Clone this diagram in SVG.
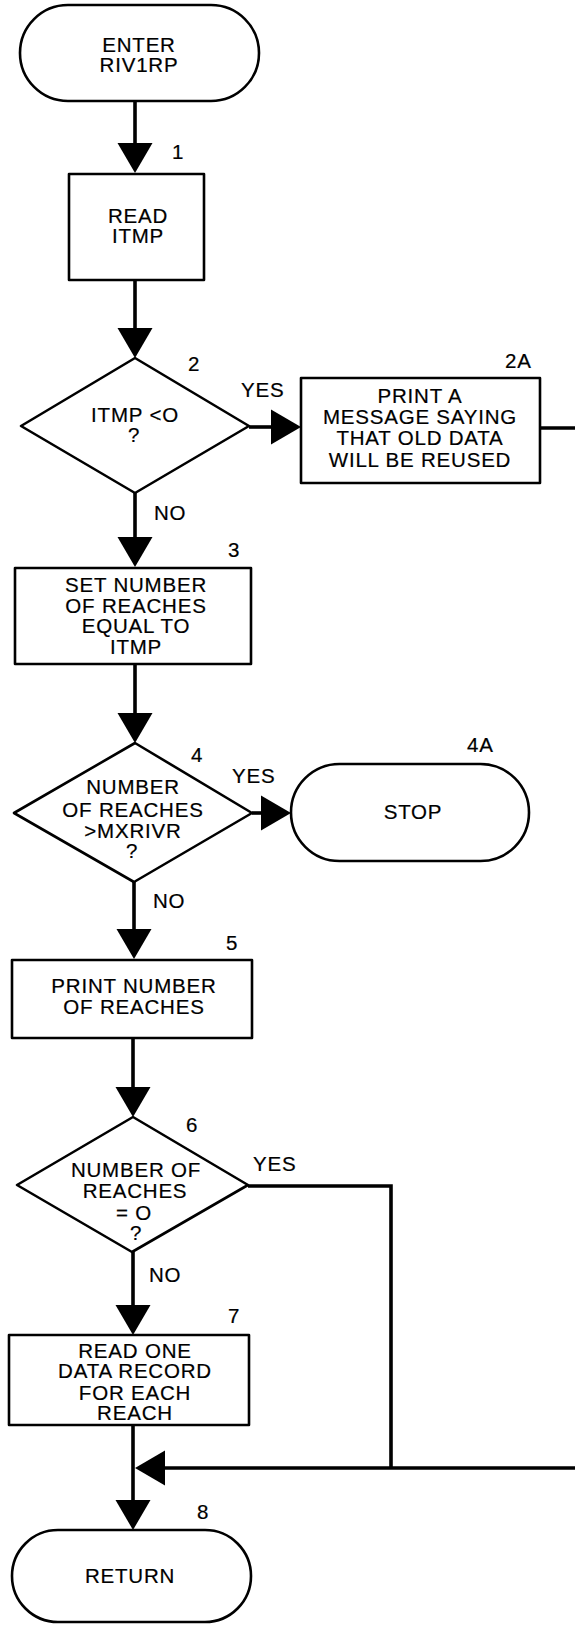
<svg xmlns="http://www.w3.org/2000/svg" xmlns:xlink="http://www.w3.org/1999/xlink" width="575" height="1625" viewBox="0 0 575 1625">
<style>
.shape{fill:#fff;stroke:#000;stroke-width:2.6;stroke-linejoin:round}
.conn{fill:none;stroke:#000;stroke-width:3.6;stroke-linejoin:miter}
.ah{fill:#000;stroke:none}
text{font-family:"Liberation Sans",Arial,Helvetica,sans-serif;font-size:20.5px;letter-spacing:0.8px;fill:#000;stroke:#000;stroke-width:0.2}
.c{text-anchor:middle}
</style>
<defs>
<polygon id="arrow" class="ah" points="0,0 -30,-17.5 -30,17.5"/>
</defs>
<rect width="575" height="1625" fill="#fff"/>

<g id="connectors">
<path class="conn" d="M135,101 V145"/>
<use xlink:href="#arrow" href="#arrow" transform="translate(135,173) rotate(90)"/>
<path class="conn" d="M135,280 V328"/>
<use xlink:href="#arrow" href="#arrow" transform="translate(135,358) rotate(90)"/>
<path class="conn" d="M249,427 H273"/>
<use xlink:href="#arrow" href="#arrow" transform="translate(301,427)"/>
<path class="conn" d="M540,428 H575"/>
<path class="conn" d="M135,493 V539"/>
<use xlink:href="#arrow" href="#arrow" transform="translate(135,567) rotate(90)"/>
<path class="conn" d="M135,664 V715"/>
<use xlink:href="#arrow" href="#arrow" transform="translate(135,743) rotate(90)"/>
<path class="conn" d="M252,813 H263"/>
<use xlink:href="#arrow" href="#arrow" transform="translate(291,813)"/>
<path class="conn" d="M134,882 V930"/>
<use xlink:href="#arrow" href="#arrow" transform="translate(134,959) rotate(90)"/>
<path class="conn" d="M133,1038 V1089"/>
<use xlink:href="#arrow" href="#arrow" transform="translate(133,1117) rotate(90)"/>
<path class="conn" d="M248,1186 H391 V1468"/>
<path class="conn" d="M133,1252 V1306"/>
<use xlink:href="#arrow" href="#arrow" transform="translate(133,1335) rotate(90)"/>
<path class="conn" d="M133,1425 V1502"/>
<use xlink:href="#arrow" href="#arrow" transform="translate(133,1530) rotate(90)"/>
<path class="conn" d="M162,1468 H575"/>
<use xlink:href="#arrow" href="#arrow" transform="translate(135,1468) rotate(180)"/>
</g>

<g id="node-enter">
<rect class="shape" x="20" y="5" width="239" height="96" rx="48" ry="48"/>
<text class="c" x="139" y="52">ENTER</text>
<text class="c" x="139" y="72">RIV1RP</text>
</g>

<g id="node-1">
<rect class="shape" x="69" y="174" width="135" height="106"/>
<text class="c" x="138" y="223">READ</text>
<text class="c" x="138" y="243">ITMP</text>
<text x="172" y="159">1</text>
</g>

<g id="node-2">
<polygon class="shape" points="135,358 249,426 135,493 21,426"/>
<text class="c" x="135" y="422">ITMP &lt;O</text>
<text class="c" x="134" y="442">?</text>
<text x="188" y="371">2</text>
<text x="241" y="397">YES</text>
<text x="154" y="520">NO</text>
</g>

<g id="node-2A">
<rect class="shape" x="301" y="378" width="239" height="105"/>
<text class="c" x="420" y="403">PRINT A</text>
<text class="c" x="420" y="424">MESSAGE SAYING</text>
<text class="c" x="420" y="445">THAT OLD DATA</text>
<text class="c" x="420" y="467">WILL BE REUSED</text>
<text x="505" y="368">2A</text>
</g>

<g id="node-3">
<rect class="shape" x="15" y="568" width="236" height="96"/>
<text class="c" x="136" y="592">SET NUMBER</text>
<text class="c" x="136" y="613">OF REACHES</text>
<text class="c" x="136" y="633">EQUAL TO</text>
<text class="c" x="136" y="654">ITMP</text>
<text x="228" y="557">3</text>
</g>

<g id="node-4">
<polygon class="shape" points="135,743 252,813 134,882 14,813"/>
<text class="c" x="133" y="794">NUMBER</text>
<text class="c" x="133" y="817">OF REACHES</text>
<text class="c" x="133" y="838">&gt;MXRIVR</text>
<text class="c" x="132" y="858">?</text>
<text x="191" y="762">4</text>
<text x="232" y="783">YES</text>
<text x="153" y="908">NO</text>
</g>

<g id="node-4A">
<rect class="shape" x="291" y="764" width="238" height="97" rx="48.5" ry="48.5"/>
<text class="c" x="413" y="819">STOP</text>
<text x="467" y="752">4A</text>
</g>

<g id="node-5">
<rect class="shape" x="12" y="960" width="240" height="78"/>
<text class="c" x="134" y="993">PRINT NUMBER</text>
<text class="c" x="134" y="1014">OF REACHES</text>
<text x="226" y="950">5</text>
</g>

<g id="node-6">
<polygon class="shape" points="133,1117 248,1185 132,1252 17,1185"/>
<text class="c" x="136" y="1177">NUMBER OF</text>
<text class="c" x="135" y="1198">REACHES</text>
<text class="c" x="134" y="1220">= O</text>
<text class="c" x="136" y="1240">?</text>
<text x="186" y="1132">6</text>
<text x="253" y="1171">YES</text>
<text x="149" y="1282">NO</text>
</g>

<g id="node-7">
<rect class="shape" x="9" y="1335" width="240" height="90"/>
<text class="c" x="135" y="1358">READ ONE</text>
<text class="c" x="135" y="1378">DATA RECORD</text>
<text class="c" x="135" y="1400">FOR EACH</text>
<text class="c" x="135" y="1420">REACH</text>
<text x="228" y="1323">7</text>
</g>

<g id="node-8">
<rect class="shape" x="12" y="1530" width="239" height="92" rx="46" ry="46"/>
<text class="c" x="130" y="1583">RETURN</text>
<text x="197" y="1519">8</text>
</g>
</svg>
